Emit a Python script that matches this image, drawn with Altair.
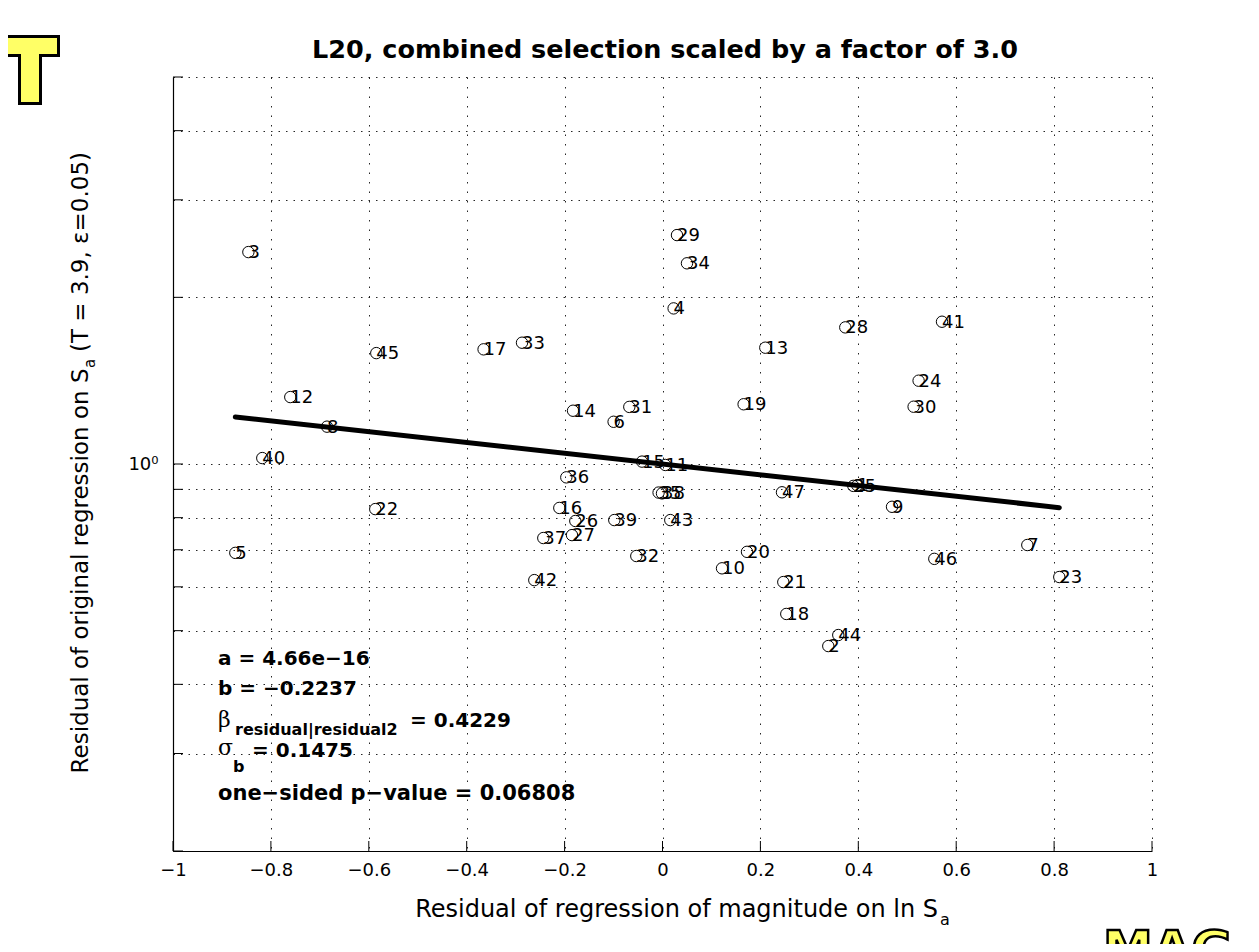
import altair as alt
import pandas as pd

# ---------------- data ----------------
point_ids = list(range(1, 48))
res_mag = [0.398, 0.3387, -0.846, 0.0227, -0.8727, -0.0999, 0.7453, -0.6854, 0.4689, 0.1216,
           0.0057, -0.7604, 0.21, -0.1828, -0.0419, -0.2108, -0.3655, 0.2529, 0.1657, 0.1726,
           0.2468, -0.5868, 0.8106, 0.5232, 0.3898, -0.1781, -0.1849, 0.3734, 0.0296, 0.513,
           -0.0678, -0.0535, -0.287, 0.05, -0.008, -0.1965, -0.2435, -0.001, -0.0985, -0.8176,
           0.571, -0.2619, 0.0159, 0.3591, -0.5847, 0.5553, 0.2441]
res_sa = [0.915, 0.469, 2.414, 1.910, 0.691, 1.192, 0.714, 1.168, 0.837, 0.648,
          0.996, 1.321, 1.622, 1.248, 1.010, 0.833, 1.611, 0.536, 1.282, 0.694,
          0.612, 0.829, 0.625, 1.414, 0.913, 0.789, 0.744, 1.765, 2.591, 1.269,
          1.268, 0.682, 1.656, 2.304, 0.888, 0.946, 0.735, 0.885, 0.792, 1.025,
          1.807, 0.617, 0.792, 0.491, 1.586, 0.674, 0.889]

fit_x = [-0.8727, 0.8106]
fit_y = [1.216, 0.834]

x_ticks = [-1, -0.8, -0.6, -0.4, -0.2, 0, 0.2, 0.4, 0.6, 0.8, 1]
y_grid = [0.2, 0.3, 0.4, 0.5, 0.6, 0.7, 0.8, 0.9, 1, 2, 3, 4, 5]

title_text = "L20, combined selection scaled by a factor of 3.0"
xtitle_main = "Residual of regression of magnitude on ln S"
ytitle_main = "Residual of original regression on S"
ytitle_tail = "(T = 3.9, ε=0.05)"
sub_a = "a"
stat_a = "a = 4.66e\u221216"
stat_b = "b = \u22120.2237"
stat_beta_sub = "residual|residual2"
stat_beta_val = "= 0.4229"
stat_sigma_sub = "b"
stat_sigma_val = "= 0.1475"
stat_p = "one\u2212sided p\u2212value = 0.06808"

# ---------------- layout ----------------
W, H = 979, 774
FONT = "DejaVu Sans"

points = pd.DataFrame({"id": point_ids, "x": res_mag, "y": res_sa})
fit = pd.DataFrame({"x": fit_x, "y": fit_y})
xt = pd.DataFrame({"x": x_ticks})
yt = pd.DataFrame({"y": y_grid})

xscale = alt.Scale(domain=[-1, 1], nice=False, zero=False)
yscale = alt.Scale(type="log", domain=[0.2, 5], nice=False)

xaxis = alt.Axis(values=x_ticks, format="~g", grid=True, gridDash=[1.5, 8], gridColor="#000",
                 gridOpacity=0.85, ticks=False, domainColor="#000", domainWidth=1.2,
                 labelFont=FONT, labelFontSize=18, labelColor="#000", labelPadding=10,
                 title=None, labelFlush=False)
yaxis = alt.Axis(values=y_grid, labelExpr="datum.value == 1 ? '10\u2070' : ''", grid=True,
                 gridDash=[1.5, 6], gridColor="#000", gridOpacity=0.85, ticks=False,
                 domainColor="#000", domainWidth=1.2, labelFont=FONT, labelFontSize=18,
                 labelColor="#000", labelPadding=15, title=None, labelFlush=False)

X = alt.X("x:Q", scale=xscale, axis=xaxis)
Y = alt.Y("y:Q", scale=yscale, axis=yaxis)

pts = alt.Chart(points).mark_point(shape="circle", filled=False, size=130, strokeWidth=1,
                                   color="#000", opacity=1).encode(x=X, y=Y)
lbl = alt.Chart(points).mark_text(align="left", baseline="middle", dx=0, dy=1, fontSize=18,
                                  font=FONT, color="#000").encode(x=X, y=Y, text="id:N")
line = alt.Chart(fit).mark_line(strokeWidth=5, strokeCap="round", color="#000").encode(x=X, y=Y)

xtick_marks = alt.Chart(xt).mark_rule(color="#000", strokeWidth=1).encode(
    x=X, y=alt.value(H), y2=alt.value(H - 10))
ytick_marks = alt.Chart(yt).mark_rule(color="#000", strokeWidth=1).encode(
    y=Y, x=alt.value(0), x2=alt.value(10))


def txt(text, x, y, size, bold=False, align="left", baseline="alphabetic", angle=0,
        font=FONT, color="#000", stroke=None, sw=0):
    kw = dict(align=align, baseline=baseline, fontSize=size,
              fontWeight="bold" if bold else "normal", font=font, angle=angle, color=color)
    if stroke:
        kw.update(stroke=stroke, strokeWidth=sw)
    return alt.Chart(pd.DataFrame({"t": [text]})).mark_text(**kw).encode(
        x=alt.value(x), y=alt.value(y), text="t:N")


def box(x1, x2, y1, y2, color):
    return alt.Chart(pd.DataFrame({"t": [0]})).mark_rect(color=color, opacity=1).encode(
        x=alt.value(x1), x2=alt.value(x2), y=alt.value(y1), y2=alt.value(y2))


annots = [
    txt(title_text, 492, -19, 25.5, bold=True, align="center"),
    txt(xtitle_main, 765, 840, 24, align="right"),
    txt(sub_a, 767, 848, 16, align="left"),
    txt(ytitle_main, -92, 291.5, 23, align="right", baseline="middle", angle=270),
    txt(sub_a, -83, 291, 15, align="left", baseline="middle", angle=270),
    txt(ytitle_tail, -92, 275, 23, align="left", baseline="middle", angle=270),
    txt(stat_a, 45, 588, 20, bold=True),
    txt(stat_b, 45, 618, 20, bold=True),
    txt("β", 45, 650, 22, font="DejaVu Serif"),
    txt(stat_beta_sub, 62, 658, 16, bold=True),
    txt(stat_beta_val, 237, 650, 20, bold=True),
    txt("σ", 45, 678, 22, font="DejaVu Serif"),
    txt(stat_sigma_sub, 60, 695, 16, bold=True),
    txt(stat_sigma_val, 79, 680, 20, bold=True),
    txt(stat_p, 45, 723, 21, bold=True),
]

logo = [
    box(-173, -113, -42, -20, "#000"),
    box(-155, -131, -24, 28, "#000"),
    box(-170, -116, -39, -23, "#ffff66"),
    box(-152, -134, -26, 25, "#ffff66"),
    txt("MAG", 930, 889, 50, bold=True, color="#ffff66", stroke="#000", sw=2.5),
]

chart = alt.layer(
    pts, xtick_marks, ytick_marks, line, lbl, *annots, *logo
).properties(
    width=W, height=H,
    autosize=alt.AutoSizeParams(type="none"),
    padding={"left": 165, "top": 69, "right": 99, "bottom": 93},
    background="white",
).configure_view(stroke=None)

chart.save("out.html", embed_options={"renderer": "svg", "actions": False})
